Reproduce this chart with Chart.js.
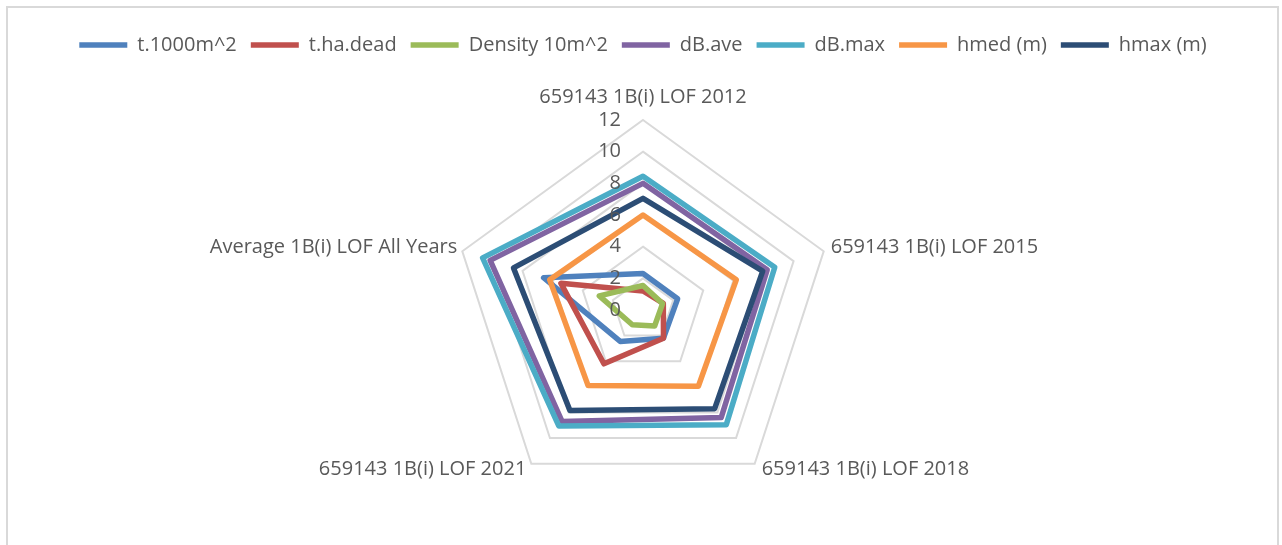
<!DOCTYPE html>
<html>
<head>
<meta charset="utf-8">
<script src="https://cdn.jsdelivr.net/npm/chart.js@4.4.1/dist/chart.umd.min.js"></script>
<style>
  html, body { margin: 0; padding: 0; background: #fff; overflow: hidden; }
  #frame { position: absolute; left: 6px; top: 6px; width: 1273px; height: 600px; border: 2px solid #D9D9D9; box-sizing: border-box; }
  #myChart { position: absolute; left: 0; top: 0; }
</style>
</head>
<body>
<div id="frame"></div>
<canvas id="myChart" width="1282" height="545"></canvas>
<script>
// categories (spokes), clockwise from the top
const categories = [
  "659143 1B(i) LOF 2012",
  "659143 1B(i) LOF 2015",
  "659143 1B(i) LOF 2018",
  "659143 1B(i) LOF 2021",
  "Average 1B(i) LOF All Years"
];
const tickValues = [0, 2, 4, 6, 8, 10, 12];

// series values
const t1000m2   = [2.3, 2.3, 2.2, 2.45, 6.6];
const tHaDead   = [1.2, 1.35, 2.2, 4.2, 5.45];
const density10 = [1.55, 1.3, 1.25, 1.15, 2.9];
const dbAve     = [8.0, 8.25, 8.4, 8.7, 10.15];
const dbMax     = [8.45, 8.75, 8.95, 9.05, 10.65];
const hmed      = [6.0, 6.2, 5.95, 5.9, 6.2];
const hmax      = [7.05, 7.95, 7.7, 7.85, 8.6];

const seriesNames = ["t.1000m^2", "t.ha.dead", "Density 10m^2", "dB.ave", "dB.max", "hmed (m)", "hmax (m)"];
const seriesData = [t1000m2, tHaDead, density10, dbAve, dbMax, hmed, hmax];
const seriesColors = ["#4F81BD", "#C0504D", "#9BBB59", "#8064A2", "#4BACC6", "#F79646", "#2C4D75"];

const textColor = "#595959";
const fontFamily = '"Open Sans", sans-serif';

// space between legend and plot
const legendGap = {
  id: 'legendGap',
  afterInit(chart) {
    const legend = chart.legend;
    const fit = legend.fit;
    legend.fit = function () {
      fit.call(this);
      this.height += 55;
    };
  }
};

// tick and point labels, placed with the scale's own geometry
const radarText = {
  id: 'radarText',
  afterDatasetsDraw(chart) {
    const s = chart.scales.r;
    const ctx = chart.ctx;
    ctx.save();
    ctx.fillStyle = textColor;
    ctx.font = '20px ' + fontFamily;

    ctx.textAlign = 'right';
    ctx.textBaseline = 'middle';
    tickValues.forEach(v => {
      ctx.fillText(String(v), s.xCenter - 22, s.yCenter - s.getDistanceFromCenterForValue(v));
    });

    categories.forEach((c, i) => {
      const p = s.getPointPosition(i, s.drawingArea);
      const dx = p.x - s.xCenter;
      const dy = p.y - s.yCenter;
      let x = p.x, y = p.y;
      if (Math.abs(dx) < 1) {
        ctx.textAlign = 'center';
        y -= 23;
      } else {
        ctx.textAlign = dx > 0 ? 'left' : 'right';
        x += dx > 0 ? 7 : -5;
        y += dy > 0 ? 6 : -4;
      }
      ctx.fillText(c, x, y);
    });
    ctx.restore();
  }
};

const ctx = document.getElementById("myChart").getContext("2d");
new Chart(ctx, {
  type: "radar",
  data: {
    labels: categories,
    datasets: seriesNames.map((name, i) => ({
      label: name,
      data: seriesData[i],
      borderColor: seriesColors[i],
      backgroundColor: seriesColors[i],
      borderWidth: 5.5,
      borderCapStyle: 'round',
      borderJoinStyle: 'round',
      pointRadius: 0,
      fill: false,
      order: seriesNames.length - 1 - i
    }))
  },
  options: {
    responsive: false,
    animation: false,
    events: [],
    layout: { padding: { top: 21, bottom: 45, left: 4, right: 0 } },
    plugins: {
      legend: {
        position: 'top',
        labels: {
          usePointStyle: true,
          pointStyle: 'line',
          pointStyleWidth: 48,
          padding: 14,
          color: textColor,
          font: { family: fontFamily, size: 20 },
          sort: (a, b) => a.datasetIndex - b.datasetIndex
        }
      },
      tooltip: { enabled: false }
    },
    scales: {
      r: {
        min: 0,
        max: 12,
        ticks: { stepSize: 2, display: false },
        pointLabels: { display: false },
        angleLines: { display: false },
        grid: { color: "#D9D9D9", lineWidth: 2 }
      }
    }
  },
  plugins: [legendGap, radarText]
});
</script>
</body>
</html>
